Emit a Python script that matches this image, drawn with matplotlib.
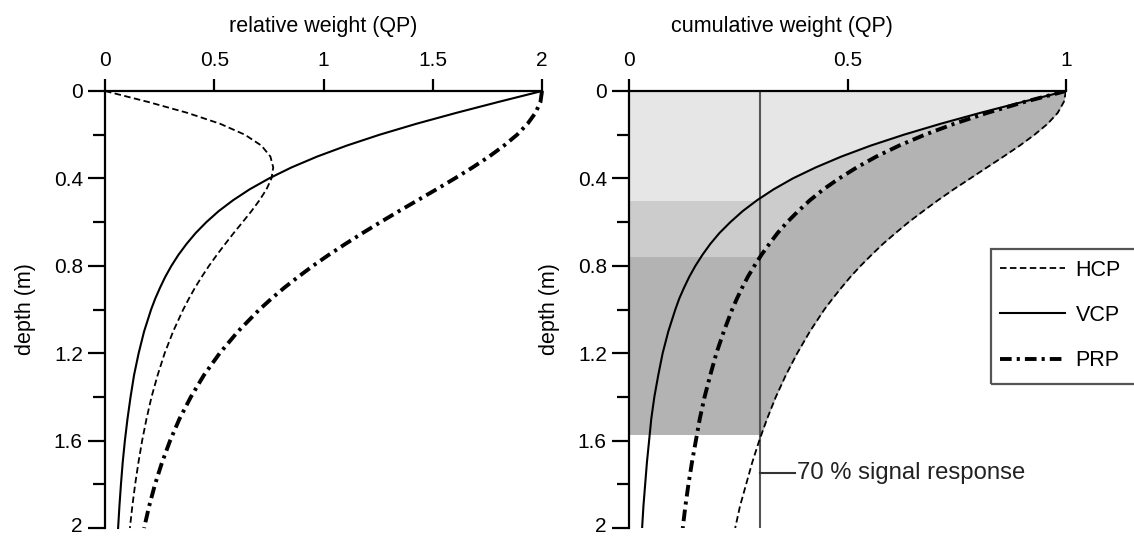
import numpy as np
import matplotlib
matplotlib.use("Agg")
import matplotlib.pyplot as plt
from matplotlib.patches import Rectangle
from matplotlib.transforms import ScaledTranslation

plt.rcParams['font.family'] = ['Liberation Sans', 'DejaVu Sans']

# =============================
# DATA
# =============================

depth = [0, 0.05, 0.1, 0.15, 0.2, 0.25, 0.3, 0.35, 0.4, 0.45, 0.5, 0.55, 0.6, 0.65,
         0.7, 0.75, 0.8, 0.85, 0.9, 0.95, 1.0, 1.1, 1.2, 1.3, 1.4, 1.5, 1.6, 1.7,
         1.8, 1.9, 2.0]

# relative weight (left panel)
rel_hcp = [0, 0.197, 0.377, 0.527, 0.640, 0.716, 0.757, 0.770, 0.762, 0.739, 0.707,
           0.670, 0.630, 0.589, 0.550, 0.512, 0.476, 0.443, 0.412, 0.384, 0.358,
           0.312, 0.273, 0.241, 0.213, 0.190, 0.170, 0.153, 0.138, 0.125, 0.114]
rel_vcp = [2.0, 1.801, 1.608, 1.425, 1.257, 1.106, 0.971, 0.853, 0.751, 0.662, 0.586,
           0.520, 0.464, 0.415, 0.373, 0.336, 0.304, 0.276, 0.252, 0.230, 0.211,
           0.179, 0.154, 0.133, 0.117, 0.103, 0.091, 0.081, 0.073, 0.066, 0.060]
rel_prp = [2.0, 1.993, 1.970, 1.934, 1.886, 1.826, 1.758, 1.682, 1.601, 1.517, 1.431,
           1.345, 1.261, 1.179, 1.100, 1.024, 0.952, 0.885, 0.821, 0.762, 0.707,
           0.609, 0.525, 0.453, 0.393, 0.341, 0.298, 0.261, 0.229, 0.202, 0.179]

# cumulative weight (right panel)
cum_hcp = [1.0, 0.995, 0.981, 0.958, 0.928, 0.894, 0.857, 0.819, 0.781, 0.743, 0.707,
           0.673, 0.640, 0.610, 0.581, 0.555, 0.530, 0.507, 0.486, 0.466, 0.447,
           0.414, 0.385, 0.359, 0.336, 0.316, 0.298, 0.282, 0.268, 0.254, 0.243]
cum_vcp = [1.0, 0.901, 0.804, 0.713, 0.629, 0.553, 0.486, 0.427, 0.375, 0.331, 0.293,
           0.260, 0.232, 0.207, 0.186, 0.168, 0.152, 0.138, 0.126, 0.115, 0.106,
           0.090, 0.077, 0.067, 0.058, 0.051, 0.046, 0.041, 0.037, 0.033, 0.030]
cum_prp = [1.0, 0.905, 0.820, 0.744, 0.677, 0.618, 0.566, 0.521, 0.481, 0.445, 0.414,
           0.387, 0.362, 0.340, 0.321, 0.303, 0.287, 0.272, 0.259, 0.247, 0.236,
           0.217, 0.200, 0.186, 0.173, 0.162, 0.153, 0.144, 0.136, 0.129, 0.123]

# depth where each configuration reaches 70 % of the signal
depth70 = {"VCP": 0.50, "PRP": 0.755, "HCP": 1.57}
signal_level = 0.3

shade = {"HCP": "#b3b3b3", "PRP": "#cccccc", "VCP": "#e6e6e6"}

styles = {
    "HCP": dict(color="black", lw=1.3, linestyle=(0, (3.6, 1.9))),
    "VCP": dict(color="black", lw=1.5, linestyle="-"),
    "PRP": dict(color="black", lw=2.8, linestyle=(0, (3.0, 1.3, 0.8, 1.3))),
}

# =============================
# FIGURE
# =============================

W, H = 1134, 536
fig = plt.figure(figsize=(W / 100, H / 100), dpi=100)

def px_axes(x0, y0, x1, y1):
    return fig.add_axes([x0 / W, 1 - y1 / H, (x1 - x0) / W, (y1 - y0) / H])

ax1 = px_axes(105, 91, 542, 528)
ax2 = px_axes(629, 91, 1066, 528)

fs_note = 17.2   # "70 % signal response"
fs_label = 15.5  # axis titles, legend
fs_tick = 15

def style_axis(ax, xmax, xticks, xlabels, title, title_x):
    ax.set_xlim(0, xmax)
    ax.set_ylim(2, 0)
    for side in ["right", "bottom"]:
        ax.spines[side].set_visible(False)
    for side in ["top", "left"]:
        ax.spines[side].set_linewidth(1.6)
    ax.xaxis.tick_top()
    ax.xaxis.set_label_position("top")
    ax.set_xticks(xticks)
    ax.set_xticklabels(xlabels)
    ax.set_yticks([0, 0.4, 0.8, 1.2, 1.6, 2.0])
    ax.set_yticklabels(["0", "0.4", "0.8", "1.2", "1.6", "2"])
    ax.set_yticks([0.2, 0.6, 1.0, 1.4, 1.8], minor=True)
    ax.tick_params(axis="x", which="major", direction="out", length=9, width=1.6,
                   labelsize=fs_tick, pad=6)
    ax.tick_params(axis="y", which="major", direction="out", length=12, width=1.6,
                   labelsize=fs_tick, pad=4)
    ax.tick_params(axis="y", which="minor", direction="out", length=9, width=1.6)
    ax.set_xlabel(title, fontsize=fs_label, labelpad=14, x=title_x)
    ax.set_ylabel("depth (m)", fontsize=fs_label, labelpad=13)
    # lift the bottom "2" a little so it stays inside the picture
    last = ax.get_yticklabels()[-1]
    last.set_transform(last.get_transform() +
                       ScaledTranslation(0, 0.04, fig.dpi_scale_trans))


# ---- left: relative weight
style_axis(ax1, 2, [0, 0.5, 1, 1.5, 2], ["0", "0.5", "1", "1.5", "2"],
           "relative weight (QP)", 0.5)
ax1.plot(rel_hcp, depth, **styles["HCP"], clip_on=False)
ax1.plot(rel_vcp, depth, **styles["VCP"], clip_on=False)
ax1.plot(rel_prp, depth, **styles["PRP"], clip_on=False)

# ---- right: cumulative weight
style_axis(ax2, 1, [0, 0.5, 1], ["0", "0.5", "1"], "cumulative weight (QP)",
           (782 - 629) / 437)

for name, curve in [("HCP", cum_hcp), ("PRP", cum_prp), ("VCP", cum_vcp)]:
    poly = ax2.fill_betweenx(depth, 0, curve, color=shade[name], lw=0, zorder=1)
    clip = Rectangle((0, 0), 1, depth70[name], transform=ax2.transData)
    poly.set_clip_path(clip)

ax2.axvline(signal_level, color="#555555", lw=1.5, zorder=2)
ax2.plot(cum_hcp, depth, **styles["HCP"], zorder=3)
ax2.plot(cum_vcp, depth, **styles["VCP"], zorder=3)
ax2.plot(cum_prp, depth, **styles["PRP"], zorder=3)

ax2.plot([signal_level, 0.38], [1.75, 1.75], color="#333333", lw=1.5, zorder=3)
ax2.text(0.385, 1.75, "70 % signal response", fontsize=fs_note, va="center",
         ha="left", color="#222222")

# legend (box runs off the right edge like the original)
handles = [ax2.plot([], [], **styles[k])[0] for k in ["HCP", "VCP", "PRP"]]
leg = ax2.legend(handles, ["HCP", "VCP", "PRP"], loc="upper left",
                 bbox_to_anchor=(991.5 / W, 1 - 251 / H), bbox_transform=fig.transFigure,
                 frameon=False, fontsize=fs_label, handlelength=3.0, handletextpad=0.5,
                 labelspacing=1.13, borderaxespad=0)
box = Rectangle((990.5 / W, 1 - 384 / H), 160 / W, (384 - 248.5) / H,
                transform=fig.transFigure, fill=False, edgecolor="#555555", lw=1.6,
                clip_on=False)
fig.patches.append(box)

fig.savefig("out.png", dpi=100)
